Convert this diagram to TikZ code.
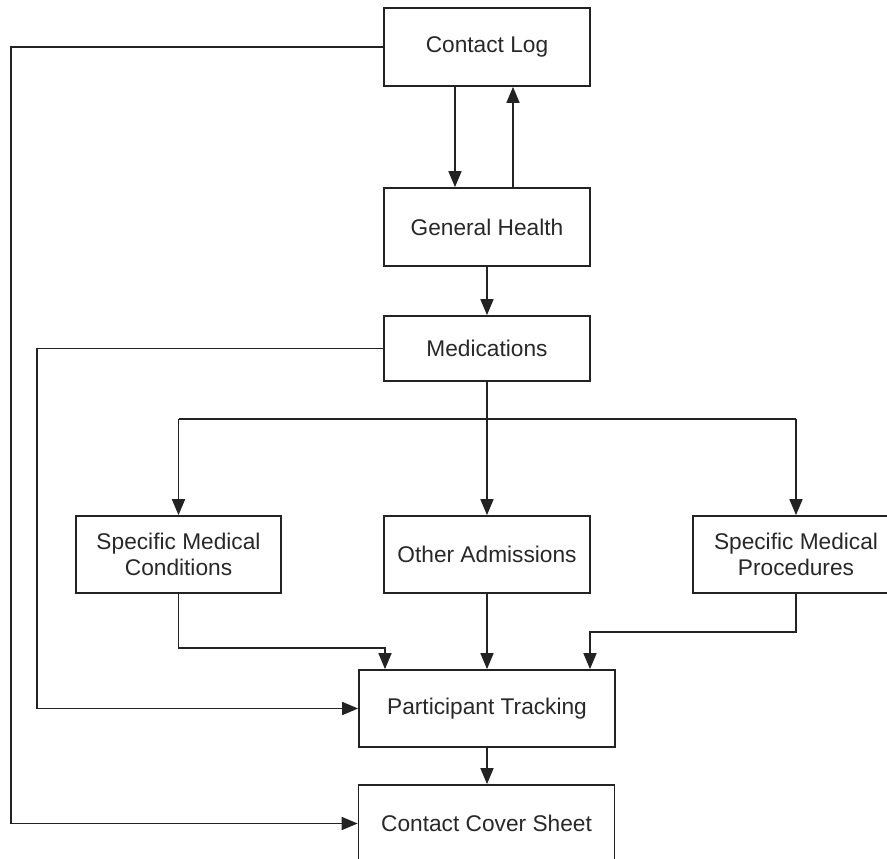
\documentclass[tikz,border=0pt]{standalone}
\usepackage{fontspec}
\setmainfont{Liberation Sans}
\usetikzlibrary{arrows.meta}
\definecolor{ln}{RGB}{35,35,35}
\definecolor{tx}{RGB}{40,40,40}
\tikzset{
  box/.style={draw=ln, line width=1.7pt, rectangle, minimum width=206pt, minimum height=78pt,
    inner sep=0pt, align=center, text=tx, font=\fontsize{22.7}{26.5}\selectfont},
  wide/.style={box, minimum width=256pt, minimum height=77pt},
  conn/.style={draw=ln, line width=1.7pt, -{Triangle[length=16pt,width=13pt]}},
  plain/.style={draw=ln, line width=1.7pt}
}
\begin{document}
\begin{tikzpicture}[x=1pt,y=-1pt]
\clip (0,0) rectangle (887,859);
\fill[white] (0,0) rectangle (887,859);
\node[box] (cl) at (487,47) {Contact Log};
\node[box] (gh) at (487,227) {General Health};
\node[box, minimum height=65pt] (med) at (487,348.5) {Medications};
\node[box, minimum width=205pt, minimum height=77pt] (smc) at (178.5,554.5) {Specific Medical\\Conditions};
\node[box, minimum height=77pt] (oa) at (487,554.5) {Other Admissions};
\node[box, minimum height=77pt] (smp) at (796,554.5) {Specific Medical\\Procedures};
\node[wide] (pt) at (487,708.5) {Participant Tracking};
\node[wide] (ccs) at (486.5,823.5) {Contact Cover Sheet};
\coordinate (br) at (487,419);
% Contact Log loop to cover sheet
\draw[conn] (cl.west) -- (11,47) |- (ccs.west);
% CL <-> GH
\draw[conn] (cl.south -| 455,0) -- (gh.north -| 455,0);
\draw[conn] (gh.north -| 513,0) -- (cl.south -| 513,0);
\draw[conn] (gh) -- (med);
% Medications to participant tracking
\draw[conn] (med.west) -- (37,348.5) |- (pt.west);
% branches
\draw[conn] (med.south) -- (oa.north);
\draw[plain] (br -| smc) -- (br -| smp);
\draw[conn] (br -| smc) -- (smc.north);
\draw[conn] (br -| smp) -- (smp.north);
% into participant tracking
\draw[conn] (smc.south) -- (178.5,648) -| (pt.north -| 385,0);
\draw[conn] (oa.south) -- (pt.north);
\draw[conn] (smp.south) -- (796,632) -| (pt.north -| 590,0);
\draw[conn] (pt.south) -- (ccs.north -| pt.south);
\end{tikzpicture}
\end{document}
